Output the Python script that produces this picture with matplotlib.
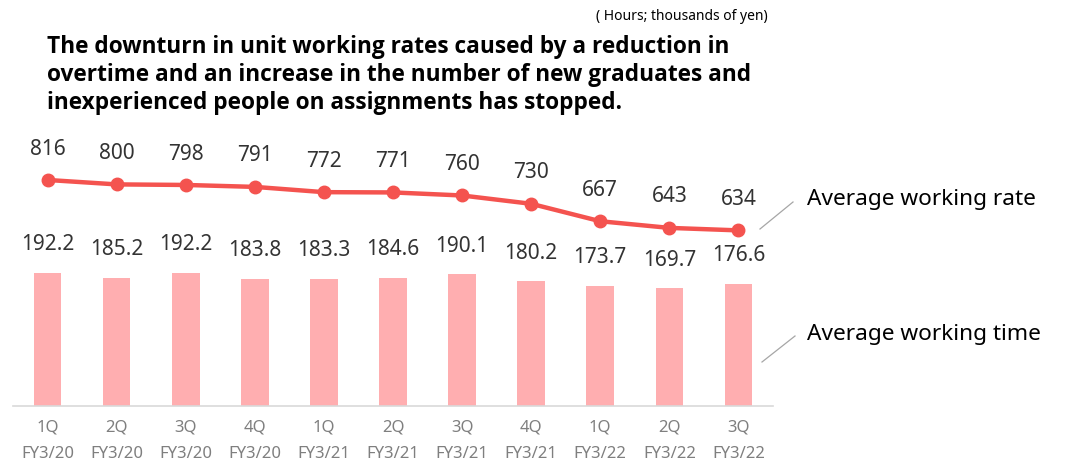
import matplotlib.pyplot as plt

quarters = ['1Q', '2Q', '3Q', '4Q', '1Q', '2Q', '3Q', '4Q', '1Q', '2Q', '3Q']
years = ['FY3/20', 'FY3/20', 'FY3/20', 'FY3/20', 'FY3/21', 'FY3/21', 'FY3/21',
         'FY3/21', 'FY3/22', 'FY3/22', 'FY3/22']
working_rate = [816, 800, 798, 791, 772, 771, 760, 730, 667, 643, 634]
working_time = [192.2, 185.2, 192.2, 183.8, 183.3, 184.6, 190.1, 180.2, 173.7, 169.7, 176.6]

plt.rcParams['font.family'] = ['Noto Sans', 'DejaVu Sans']

W, H = 1071, 464
fig = plt.figure(figsize=(W / 100, H / 100), dpi=100)
ax = fig.add_axes([13 / W, (H - 407) / H, 760 / W, 277 / H])
ax2 = ax.twinx()

x = list(range(len(working_rate)))
bar_color = '#FFAEB0'
line_color = '#F4534F'

ax.bar(x, working_time, width=0.4, color=bar_color, zorder=2)
ax.set_ylim(0, 400)
ax.set_xlim(-0.5, 10.5)

for xi, v in zip(x, working_time):
    ax.annotate(f'{v:.1f}', (xi, v), xytext=(0, 21), textcoords='offset points',
                ha='center', va='center', fontsize=15, color='#333333')

ax2.plot(x, working_rate, color=line_color, lw=3.2, marker='o', ms=9, zorder=3)
ax2.set_ylim(0, 1000)
for xi, v in zip(x, working_rate):
    ax2.annotate(f'{v}', (xi, v), xytext=(0, 23), textcoords='offset points',
                 ha='center', va='center', fontsize=15, color='#333333')

for a in (ax, ax2):
    for side in ('top', 'right', 'left'):
        a.spines[side].set_visible(False)
    a.set_yticks([])
ax.spines['bottom'].set_color('#D9D9D9')
ax.spines['bottom'].set_linewidth(1.2)
ax2.spines['bottom'].set_visible(False)

ax.set_xticks(x)
ax.set_xticklabels([f'{q}\n{y}' for q, y in zip(quarters, years)],
                   fontsize=12, color='#7F7F7F', linespacing=1.85)
ax.tick_params(axis='x', length=0, pad=9)

fig.text(47 / W, 1 - 35 / H,
         'The downturn in unit working rates caused by a reduction in\n'
         'overtime and an increase in the number of new graduates and\n'
         'inexperienced people on assignments has stopped.',
         fontsize=16.3, fontweight='bold', family=['Open Sans', 'DejaVu Sans'],
         va='top', ha='left', linespacing=1.22, color='black')
fig.text(768 / W, 1 - 17 / H, '( Hours; thousands of yen)', fontsize=10,
         ha='right', va='center', color='black')

# series labels with short leader lines
fig.text(807 / W, 1 - 199 / H, 'Average working rate', fontsize=16.3,
         ha='left', va='center')
fig.text(807 / W, 1 - 335 / H, 'Average working time', fontsize=16.3,
         ha='left', va='center')
fig.add_artist(plt.Line2D([760 / W, 793 / W], [1 - 230 / H, 1 - 203 / H],
                          color='#A6A6A6', lw=0.9))
fig.add_artist(plt.Line2D([762 / W, 795 / W], [1 - 363 / H, 1 - 337 / H],
                          color='#A6A6A6', lw=0.9))

fig.savefig('out.png', dpi=100)
